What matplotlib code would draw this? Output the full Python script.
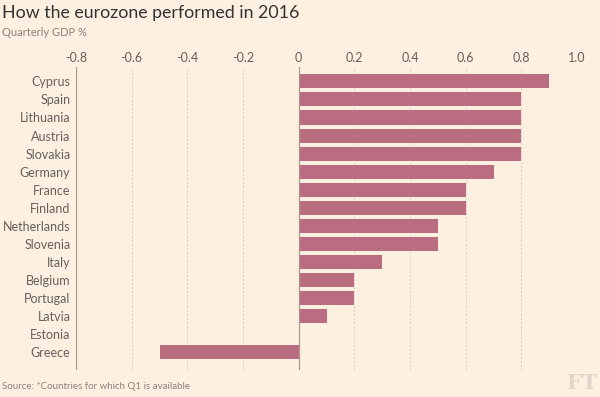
import matplotlib.pyplot as plt

countries = ['Cyprus', 'Spain', 'Lithuania', 'Austria', 'Slovakia', 'Germany', 'France', 'Finland',
             'Netherlands', 'Slovenia', 'Italy', 'Belgium', 'Portugal', 'Latvia', 'Estonia', 'Greece']
gdp = [0.9, 0.8, 0.8, 0.8, 0.8, 0.7, 0.6, 0.6, 0.5, 0.5, 0.3, 0.2, 0.2, 0.1, 0.0, -0.5]
xticks = [-0.8, -0.6, -0.4, -0.2, 0, 0.2, 0.4, 0.6, 0.8, 1.0]
xlabels = ['-0.8', '-0.6', '-0.4', '-0.2', '0', '0.2', '0.4', '0.6', '0.8', '1.0']

bg = '#fdf0e1'
bar_col = '#ba6d80'
txt = '#66605c'
plt.rcParams['font.family'] = ['Lato', 'DejaVu Sans']

fig = plt.figure(figsize=(6, 3.97), dpi=100, facecolor=bg)
ax = fig.add_axes([76/600, 1-370/397, (577-76)/600, (370-67)/397], facecolor=bg)

y = list(range(len(countries)))
ax.barh(y, gdp, height=0.78, color=bar_col, zorder=3)
ax.set_xlim(-0.8, 1.0)
ax.set_ylim(len(countries), -0.8)
ax.set_yticks(y)
ax.set_yticklabels(countries)
ax.set_xticks(xticks)
ax.set_xticklabels(xlabels)
ax.xaxis.tick_top()
ax.tick_params(axis='both', length=0, colors=txt, labelsize=9)
ax.tick_params(axis='x', pad=2)
ax.tick_params(axis='y', pad=4)
for s in ax.spines.values():
    s.set_visible(False)
for t in xticks:
    if t == 0 or t == -0.8:
        ax.axvline(t, color='#a8998f', lw=0.9, zorder=4)
    else:
        ax.axvline(t, color='#d8ccc0', lw=0.7, ls=(0, (2, 2)), zorder=1)

fig.text(0.003, 0.988, 'How the eurozone performed in 2016', fontsize=12.8, color='#333333',
         va='top', ha='left')
fig.text(0.003, 0.932, 'Quarterly GDP %', fontsize=8, color='#8a817c', va='top', ha='left')
fig.text(0.003, 0.015, 'Source: *Countries for which Q1 is available', fontsize=7, color='#8a817c',
         va='bottom', ha='left')
fig.text(0.995, 0.01, 'FT', fontsize=15, color='#e0d6cb', family='DejaVu Serif',
         fontweight='bold', va='bottom', ha='right')

plt.savefig('out.png', dpi=100, facecolor=bg)
